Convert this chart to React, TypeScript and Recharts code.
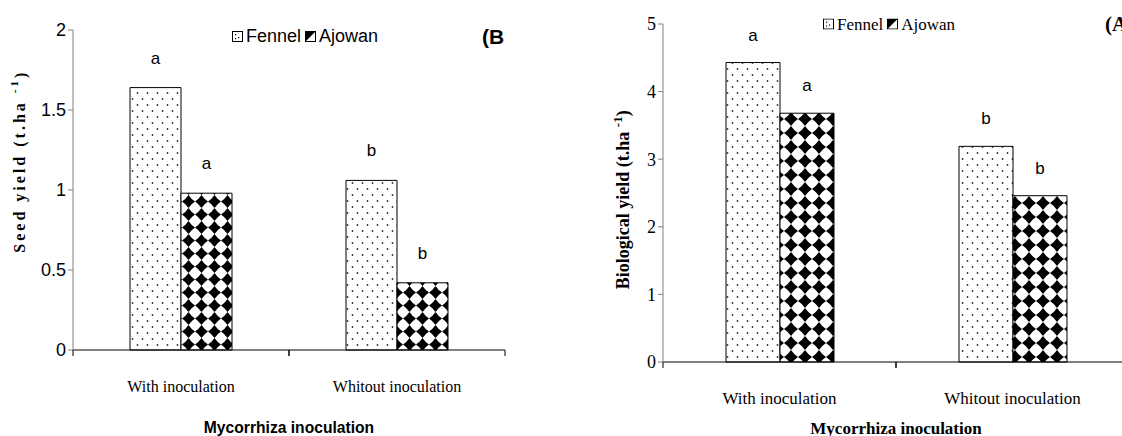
import { BarChart, Bar, XAxis, YAxis, LabelList } from 'recharts';

// Mycorrhiza inoculation treatments
const categories = ['With inoculation', 'Whitout inoculation'];

// (B) seed yield, t/ha
const seedFennel = [1.64, 1.06];
const seedAjowan = [0.98, 0.42];
const seedFennelGroups = ['a', 'b'];
const seedAjowanGroups = ['a', 'b'];
const seedTicks = [0, 0.5, 1, 1.5, 2];

// (A) biological yield, t/ha
const bioFennel = [4.43, 3.19];
const bioAjowan = [3.68, 2.46];
const bioFennelGroups = ['a', 'b'];
const bioAjowanGroups = ['a', 'b'];
const bioTicks = [0, 1, 2, 3, 4, 5];

const SANS = "'Liberation Sans Narrow', 'Arial Narrow', 'Liberation Sans', Arial, sans-serif";
const SERIF = "'Liberation Serif', 'Times New Roman', serif";

const seedData = categories.map((cat, i) => ({
  cat,
  fennel: seedFennel[i],
  ajowan: seedAjowan[i],
  fennelGroup: seedFennelGroups[i],
  ajowanGroup: seedAjowanGroups[i],
}));

const bioData = categories.map((cat, i) => ({
  cat,
  fennel: bioFennel[i],
  ajowan: bioAjowan[i],
  fennelGroup: bioFennelGroups[i],
  ajowanGroup: bioAjowanGroups[i],
}));

function Patterns({ id, tile }: { id: string; tile: number }) {
  const h = tile / 2;
  const k = tile * 0.2;
  const d = `M${h} 0 Q${h + k} ${h - k} ${tile} ${h} Q${h + k} ${h + k} ${h} ${tile} Q${h - k} ${h + k} 0 ${h} Q${h - k} ${h - k} ${h} 0Z`;
  return (
    <defs>
      <pattern id={`dots-${id}`} width="10" height="12" patternUnits="userSpaceOnUse">
        <rect width="10" height="12" fill="#fff" />
        <circle cx="2.5" cy="3" r="0.9" fill="#333" />
        <circle cx="7.5" cy="9" r="0.9" fill="#333" />
      </pattern>
      <pattern id={`diamonds-${id}`} width={tile} height={tile} patternUnits="userSpaceOnUse">
        <rect width={tile} height={tile} fill="#fff" />
        <path d={d} fill="#000" />
      </pattern>
    </defs>
  );
}

// category label plus the small tick marks at the category boundaries
const categoryTick = (labelDy: number, size: number) => (props: any) => {
  const { x, y, payload } = props;
  const half = payload.offset || 0;
  return (
    <g>
      {half > 0 && <line x1={x - half} x2={x - half} y1={y} y2={y + 6} stroke="#000" />}
      {half > 0 && <line x1={x + half} x2={x + half} y1={y} y2={y + 6} stroke="#000" />}
      <text x={x} y={y + labelDy} textAnchor="middle" fontFamily={SERIF} fontSize={size} fill="#000">
        {payload.value}
      </text>
    </g>
  );
};

const groupLabel = (dy: number, font: string) => (props: any) => {
  const { x, y, width, value } = props;
  return (
    <text x={x + width / 2} y={y - dy} textAnchor="middle" fontSize={17} fontFamily={font} fill="#000">
      {value}
    </text>
  );
};

const yLabel = (text: string, font: string, size: number, spacing: number, dx: number, fy: number) => (props: any) => {
  const vb = props.viewBox;
  const cx = vb.x + dx;
  const cy = vb.y + vb.height * fy;
  return (
    <text
      x={cx}
      y={cy}
      transform={`rotate(-90, ${cx}, ${cy})`}
      textAnchor="middle"
      dominantBaseline="central"
      fontFamily={font}
      fontWeight="bold"
      fontSize={size}
      letterSpacing={spacing}
      fill="#000"
    >
      {text}
      <tspan dy={-6} fontSize={size - 5}>-1</tspan>
      <tspan dy={6}>)</tspan>
    </text>
  );
};

function LegendIcon({ kind }: { kind: 'dots' | 'half' }) {
  return (
    <svg width="11" height="11" style={{ marginRight: 3, verticalAlign: 'middle' }}>
      <rect x="0.5" y="0.5" width="10" height="10" fill="#fff" stroke="#000" />
      {kind === 'dots' ? (
        <>
          <rect x="3" y="3" width="1.2" height="1.2" fill="#000" />
          <rect x="6" y="6" width="1.2" height="1.2" fill="#000" />
          <rect x="3" y="7" width="1.2" height="1.2" fill="#000" />
        </>
      ) : (
        <polygon points="0.5,0.5 10.5,0.5 0.5,10.5" fill="#000" />
      )}
    </svg>
  );
}

function Legend({ font, size }: { font: string; size: number }) {
  return (
    <div style={{ fontFamily: font, fontSize: size, whiteSpace: 'nowrap', display: 'flex', alignItems: 'center' }}>
      <LegendIcon kind="dots" />
      <span style={{ marginRight: 4 }}>Fennel</span>
      <LegendIcon kind="half" />
      <span>Ajowan</span>
    </div>
  );
}

const abs = (left: number, top: number): React.CSSProperties => ({
  position: 'absolute',
  left,
  top,
  transform: 'translate(0, -50%)',
  lineHeight: 1,
});

export default function App() {
  return (
    <div style={{ position: 'absolute', left: 0, top: 0, width: 1122, height: 436, background: '#fff', overflow: 'hidden' }}>
      {/* (B) seed yield */}
      <div style={{ position: 'absolute', left: 0, top: 0, width: 560, height: 436 }}>
        <BarChart
          width={560}
          height={436}
          data={seedData}
          margin={{ top: 30, right: 55, bottom: 46, left: 23 }}
          barGap={0}
          barSize={51}
        >
          <Patterns id="seed" tile={13} />
          <XAxis
            dataKey="cat"
            height={40}
            axisLine={{ stroke: '#000' }}
            tickLine={false}
            tickSize={0}
            tickMargin={0}
            tick={categoryTick(42, 16)}
          />
          <YAxis
            width={50}
            domain={[0, 2]}
            ticks={seedTicks}
            axisLine={{ stroke: '#808080' }}
            tickLine={{ stroke: '#808080' }}
            tickSize={5}
            tick={{ fill: '#000', fontFamily: SANS, fontSize: 18 }}
            label={{ content: yLabel('Seed yield (t.ha ', SERIF, 16, 3, -3, 0.41) }}
          />
          <Bar dataKey="fennel" fill="url(#dots-seed)" stroke="#000" strokeWidth={1} isAnimationActive={false}>
            <LabelList dataKey="fennelGroup" content={groupLabel(24, SANS)} />
          </Bar>
          <Bar dataKey="ajowan" fill="url(#diamonds-seed)" stroke="#000" strokeWidth={1} isAnimationActive={false}>
            <LabelList dataKey="ajowanGroup" content={groupLabel(24, SANS)} />
          </Bar>
        </BarChart>
        <div style={abs(232, 36)}>
          <Legend font={SANS} size={18} />
        </div>
        <div style={{ ...abs(482, 36), fontFamily: "'Liberation Sans', Arial, sans-serif", fontWeight: 'bold', fontSize: 21 }}>(B</div>
        <div
          style={{
            position: 'absolute',
            left: 289,
            top: 427,
            transform: 'translate(-50%, -50%) scaleX(0.92)',
            fontFamily: SANS,
            fontWeight: 'bold',
            fontSize: 17,
            whiteSpace: 'nowrap',
            lineHeight: 1,
          }}
        >
          Mycorrhiza inoculation
        </div>
      </div>

      {/* (A) biological yield */}
      <div style={{ position: 'absolute', left: 560, top: 0, width: 562, height: 436, overflow: 'hidden' }}>
        <BarChart
          width={580}
          height={436}
          data={bioData}
          margin={{ top: 24, right: 11, bottom: 34, left: 43 }}
          barGap={0}
          barSize={54}
        >
          <Patterns id="bio" tile={14} />
          <XAxis
            dataKey="cat"
            height={40}
            axisLine={{ stroke: '#000' }}
            tickLine={false}
            tickSize={0}
            tickMargin={0}
            tick={categoryTick(42, 17)}
          />
          <YAxis
            width={60}
            domain={[0, 5]}
            ticks={bioTicks}
            axisLine={{ stroke: '#808080' }}
            tickLine={{ stroke: '#808080' }}
            tickSize={5}
            tick={{ fill: '#000', fontFamily: SERIF, fontSize: 18 }}
            label={{ content: yLabel('Biological yield (t.ha ', SERIF, 18, 0, 20, 0.52) }}
          />
          <Bar dataKey="fennel" fill="url(#dots-bio)" stroke="#000" strokeWidth={1} isAnimationActive={false}>
            <LabelList dataKey="fennelGroup" content={groupLabel(22, SANS)} />
          </Bar>
          <Bar dataKey="ajowan" fill="url(#diamonds-bio)" stroke="#000" strokeWidth={1} isAnimationActive={false}>
            <LabelList dataKey="ajowanGroup" content={groupLabel(22, SANS)} />
          </Bar>
        </BarChart>
        <div style={abs(263, 24)}>
          <Legend font={SERIF} size={17} />
        </div>
        <div style={{ ...abs(545, 24), fontFamily: SERIF, fontWeight: 'bold', fontSize: 21 }}>(A</div>
        <div
          style={{
            position: 'absolute',
            left: 336,
            top: 428,
            transform: 'translate(-50%, -50%)',
            fontFamily: SERIF,
            fontWeight: 'bold',
            fontSize: 17,
            whiteSpace: 'nowrap',
            lineHeight: 1,
          }}
        >
          Mycorrhiza inoculation
        </div>
      </div>
    </div>
  );
}
